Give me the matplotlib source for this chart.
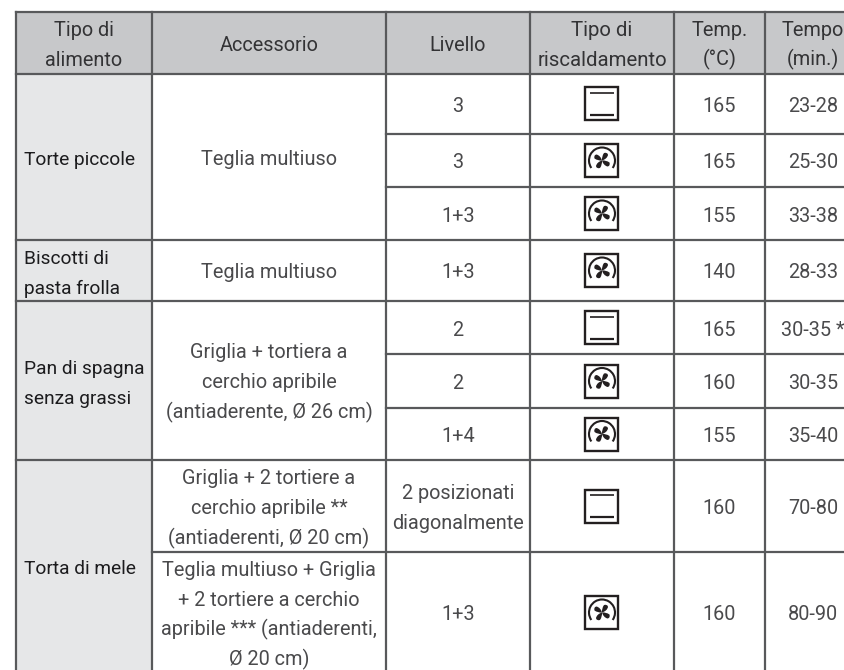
import matplotlib
matplotlib.use("Agg")
import matplotlib.pyplot as plt
from matplotlib.patches import Rectangle, PathPatch, Arc
from matplotlib.path import Path
from matplotlib.transforms import Affine2D

plt.rcParams['font.family'] = ['Roboto', 'DejaVu Sans']

# contenuto della tabella
intestazioni = ["Tipo di\nalimento", "Accessorio", "Livello", "Tipo di\nriscaldamento", "Temp.\n(°C)", "Tempo\n(min.)"]
alimenti = ["Torte piccole", "Biscotti di\npasta frolla", "Pan di spagna\nsenza grassi", "Torta di mele"]
accessori = ["Teglia multiuso", "Teglia multiuso",
             "Griglia + tortiera a\ncerchio apribile\n(antiaderente, Ø 26 cm)",
             "Griglia + 2 tortiere a\ncerchio apribile **\n(antiaderenti, Ø 20 cm)",
             "Teglia multiuso + Griglia\n+ 2 tortiere a cerchio\napribile *** (antiaderenti,\nØ 20 cm)"]
livelli = ["3", "3", "1+3", "1+3", "2", "2", "1+4", "2 posizionati\ndiagonalmente", "1+3"]
riscaldamento = ["statico", "ventola", "ventola", "ventola", "statico", "ventola", "ventola", "statico", "ventola"]
temperature = ["165", "165", "155", "140", "165", "160", "155", "160", "160"]
tempi = ["23-28", "25-30", "33-38", "28-33", "30-35 *", "30-35", "35-40", "70-80", "80-90"]

# griglia in pixel
col_x = [16, 152, 386, 530, 674, 765, 845]
head_y = [12, 73.5]
riga_y = [73.5, 134, 187, 240, 301, 354, 408, 460, 552, 673]
gruppi_alimenti = [(0, 3), (3, 4), (4, 7), (7, 9)]
gruppi_accessori = [(0, 3), (3, 4), (4, 7), (7, 8), (8, 9)]
tempo_cx = 813

testo = '#4a4a4c'
linea = '#58595b'
nero = '#231f20'
fs = 14.3

fig = plt.figure(figsize=(8.45, 6.7), dpi=100)
ax = fig.add_axes([0, 0, 1, 1])
ax.set_xlim(0, 845)
ax.set_ylim(670, 0)
ax.axis('off')


def scrivi(cx, cy, s, color=testo, size=fs, ha='center'):
    righe = s.split("\n")
    for i, r in enumerate(righe):
        y = cy + 8 + (i - (len(righe) - 1) / 2) * 30
        ax.text(cx, y, r, ha=ha, va='baseline', fontsize=size, color=color)


def icona(cx, cy, tipo):
    ax.add_patch(Rectangle((cx - 16.5, cy - 16.5), 33, 33, fc='white', ec=nero, lw=1.7))
    if tipo == "statico":
        ax.plot([cx - 12, cx + 12], [cy - 11, cy - 11], color=nero, lw=1.2, solid_capstyle='butt')
        ax.plot([cx - 12, cx + 12], [cy + 11, cy + 11], color=nero, lw=1.6, solid_capstyle='butt')
        return
    # arco aperto in basso (asse y invertito)
    ax.add_patch(Arc((cx, cy), 26, 26, theta1=145, theta2=35, color=nero, lw=1.5))
    # quattro pale
    pala = Path([(0, 0), (-0.5, -4), (2, -7.5), (5.5, -8.5), (6, -5.5), (5, -1.5), (0, 0)],
                [Path.MOVETO, Path.CURVE3, Path.CURVE3, Path.CURVE3, Path.CURVE3, Path.CURVE3, Path.CURVE3])
    for ang in (0, 90, 180, 270):
        tr = Affine2D().rotate_deg(ang).translate(cx, cy) + ax.transData
        ax.add_patch(PathPatch(pala, fc=nero, ec='none', transform=tr))


# sfondi
ax.add_patch(Rectangle((col_x[0], head_y[0]), col_x[-1] - col_x[0], head_y[1] - head_y[0], fc='#c7c8ca', ec='none'))
ax.add_patch(Rectangle((col_x[0], riga_y[0]), col_x[1] - col_x[0], riga_y[-1] - riga_y[0], fc='#e6e7e8', ec='none'))

# linee orizzontali: quelle interne ai gruppi partono dalla colonna Livello
ax.plot([col_x[0], col_x[-1]], [head_y[0], head_y[0]], color=linea, lw=1.6)
for i, y in enumerate(riga_y[:-1]):
    x0 = col_x[0] if any(i == g[0] for g in gruppi_alimenti) else col_x[2]
    if i == 8:
        x0 = col_x[1]
    ax.plot([x0, col_x[-1]], [y, y], color=linea, lw=1.6)
for x in col_x[:-1]:
    ax.plot([x, x], [head_y[0], riga_y[-1]], color=linea, lw=1.6)

# intestazione
for j, h in enumerate(intestazioni):
    cx = tempo_cx if j == 5 else (col_x[j] + col_x[j + 1]) / 2
    scrivi(cx, sum(head_y) / 2, h, color='#333335', size=14.7 if j == 3 else fs)

# prima colonna, allineata a sinistra
for s, (a, b) in zip(alimenti, gruppi_alimenti):
    scrivi(24, (riga_y[a] + riga_y[b]) / 2, s, color='#1c1c1e', size=13.8, ha='left')

for s, (a, b) in zip(accessori, gruppi_accessori):
    scrivi((col_x[1] + col_x[2]) / 2, (riga_y[a] + riga_y[b]) / 2, s)

for i in range(len(livelli)):
    cy = (riga_y[i] + riga_y[i + 1]) / 2
    scrivi((col_x[2] + col_x[3]) / 2, cy, livelli[i])
    icona((col_x[3] + col_x[4]) / 2, cy, riscaldamento[i])
    scrivi((col_x[4] + col_x[5]) / 2, cy, temperature[i])
    if "*" in tempi[i]:
        scrivi(781, cy, tempi[i], ha='left')
    else:
        scrivi(tempo_cx, cy, tempi[i])

fig.savefig("out.png", dpi=100)
